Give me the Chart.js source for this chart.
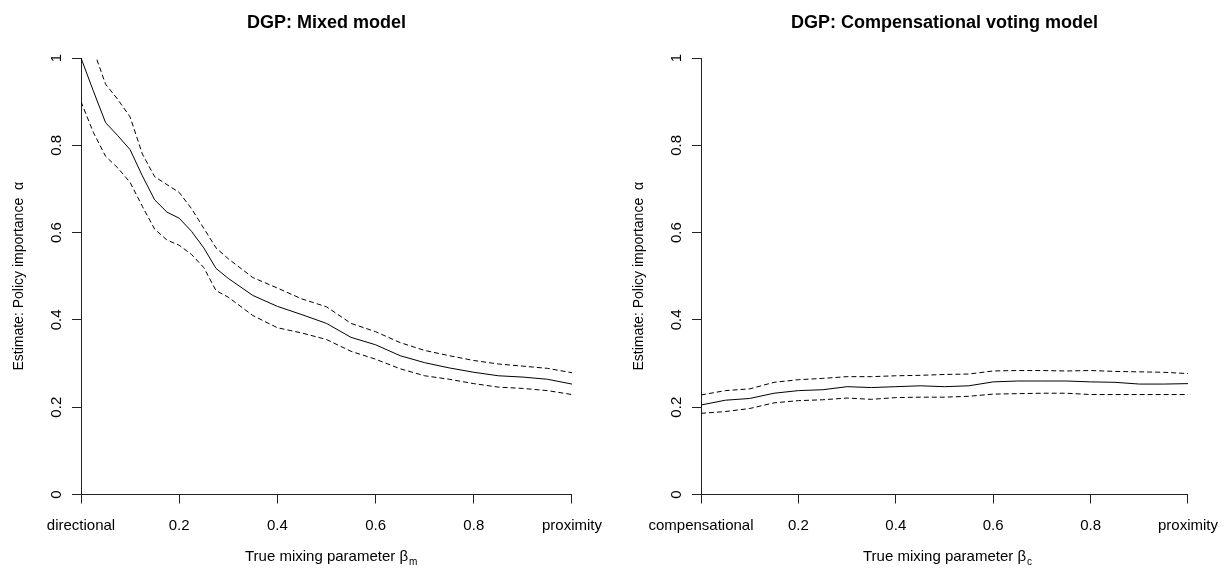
<!DOCTYPE html>
<html>
<head>
<meta charset="utf-8">
<script src="https://cdn.jsdelivr.net/npm/chart.js@4/dist/chart.umd.min.js"></script>
<style>
  html, body { margin: 0; padding: 0; background: #fff; }
  #wrap { position: relative; width: 1231px; height: 570px; overflow: hidden; }
  canvas { position: absolute; top: 0; }
  #c1 { left: 0; }
  #c2 { left: 615px; }
</style>
</head>
<body>
<div id="wrap">
  <canvas id="c1" width="615" height="570"></canvas>
  <canvas id="c2" width="616" height="570"></canvas>
</div>
<script>
// ---------- data ----------
const leftX = [0, 0.025, 0.05, 0.075, 0.1, 0.125, 0.15, 0.175, 0.2, 0.225, 0.25, 0.275, 0.3,
  0.35, 0.4, 0.45, 0.5, 0.55, 0.6, 0.65, 0.7, 0.75, 0.8, 0.85, 0.9, 0.95, 1.0];
const leftEstimate = [1.0, 0.925, 0.852, 0.822, 0.79, 0.73, 0.675, 0.647, 0.633, 0.603, 0.565, 0.518, 0.495,
  0.456, 0.431, 0.412, 0.392, 0.36, 0.343, 0.318, 0.302, 0.29, 0.28, 0.272, 0.269, 0.264, 0.253];
const leftUpper = [1.1, 1.02, 0.94, 0.905, 0.865, 0.78, 0.728, 0.71, 0.692, 0.655, 0.61, 0.565, 0.54,
  0.497, 0.473, 0.448, 0.43, 0.392, 0.373, 0.348, 0.33, 0.318, 0.307, 0.299, 0.294, 0.289, 0.279];
const leftLower = [0.9, 0.83, 0.775, 0.748, 0.715, 0.66, 0.608, 0.583, 0.571, 0.55, 0.52, 0.467, 0.452,
  0.41, 0.382, 0.37, 0.355, 0.328, 0.31, 0.288, 0.272, 0.264, 0.254, 0.246, 0.243, 0.238, 0.229];

const rightX = [0, 0.05, 0.1, 0.15, 0.2, 0.25, 0.3, 0.35, 0.4, 0.45, 0.5,
  0.55, 0.6, 0.65, 0.7, 0.75, 0.8, 0.85, 0.9, 0.95, 1.0];
const rightEstimate = [0.205, 0.216, 0.22, 0.232, 0.238, 0.24, 0.247, 0.245, 0.247, 0.249, 0.247,
  0.249, 0.258, 0.26, 0.26, 0.26, 0.258, 0.257, 0.253, 0.253, 0.254];
const rightUpper = [0.228, 0.238, 0.242, 0.257, 0.263, 0.266, 0.27, 0.27, 0.272, 0.273, 0.275,
  0.276, 0.283, 0.284, 0.284, 0.283, 0.284, 0.282, 0.281, 0.28, 0.277];
const rightLower = [0.186, 0.19, 0.197, 0.21, 0.215, 0.217, 0.221, 0.218, 0.222, 0.223, 0.223,
  0.225, 0.23, 0.231, 0.232, 0.232, 0.229, 0.229, 0.229, 0.229, 0.229];

const xTickValues = [0, 0.2, 0.4, 0.6, 0.8, 1];
const leftXTickLabels = ['directional', '0.2', '0.4', '0.6', '0.8', 'proximity'];
const rightXTickLabels = ['compensational', '0.2', '0.4', '0.6', '0.8', 'proximity'];
const yTickValues = [0, 0.2, 0.4, 0.6, 0.8, 1];
const yTickLabels = ['0', '0.2', '0.4', '0.6', '0.8', '1'];

const leftTitle = 'DGP: Mixed model';
const rightTitle = 'DGP: Compensational voting model';
const yAxisTitle = 'Estimate: Policy importance  \u03B1';
const xAxisTitle = 'True mixing parameter \u03B2';
const leftSubscript = 'm';
const rightSubscript = 'c';

// ---------- chart builder ----------
const FONT = "'Liberation Sans', Arial, sans-serif";
const AXIS = '#222';

function pts(xs, ys) { return xs.map((x, i) => ({ x: x, y: ys[i] })); }

function subscriptPlugin(sub) {
  return {
    id: 'xsub',
    afterDraw(chart) {
      const s = chart.scales.x;
      const ctx = chart.ctx;
      ctx.save();
      ctx.font = '15px ' + FONT;
      const w = ctx.measureText(xAxisTitle).width;
      const cx = (s.left + s.right) / 2;
      const cy = s.bottom - 4 - 9;
      ctx.font = '10px ' + FONT;
      ctx.fillStyle = '#000';
      ctx.textBaseline = 'middle';
      ctx.textAlign = 'left';
      ctx.fillText(sub, cx + w / 2 + 1, cy + 5);
      ctx.restore();
    }
  };
}

function makeChart(id, xs, mid, up, lo, title, xLabels, sub, padLeft, padRight) {
  const line = (data, dash) => ({
    data: pts(xs, data),
    borderColor: '#000',
    borderWidth: 1,
    borderDash: dash,
    pointRadius: 0,
    tension: 0,
    fill: false
  });
  return new Chart(document.getElementById(id), {
    type: 'line',
    data: {
      datasets: [line(mid, []), line(up, [5, 3]), line(lo, [5, 3])]
    },
    options: {
      responsive: false,
      animation: false,
      layout: { padding: { left: padLeft, right: padRight, top: 0, bottom: 0 } },
      plugins: {
        legend: { display: false },
        tooltip: { enabled: false },
        title: {
          display: true,
          text: title,
          fullSize: false,
          color: '#000',
          font: { family: FONT, size: 18, weight: 'bold' },
          padding: { top: 12, bottom: 24.4 }
        }
      },
      scales: {
        x: {
          type: 'linear',
          min: 0, max: 1,
          afterBuildTicks: (s) => { s.ticks = xTickValues.map(v => ({ value: v })); },
          afterFit: (s) => { s.height = 75.5; },
          ticks: {
            color: '#000',
            font: { family: FONT, size: 15 },
            padding: 13,
            maxRotation: 0,
            autoSkip: false,
            callback: (v, i) => xLabels[i]
          },
          grid: { display: true, drawOnChartArea: false, drawTicks: true, tickLength: 9, color: AXIS, lineWidth: 1 },
          border: { display: true, color: AXIS, width: 1 },
          title: {
            display: true,
            text: xAxisTitle,
            color: '#000',
            font: { family: FONT, size: 15 },
            padding: { top: 0, bottom: 4 }
          }
        },
        y: {
          type: 'linear',
          min: 0, max: 1,
          afterBuildTicks: (s) => { s.ticks = yTickValues.map(v => ({ value: v })); },
          afterFit: (s) => { s.width = 81; },
          ticks: {
            color: '#000',
            font: { family: FONT, size: 15 },
            padding: 5,
            minRotation: 90,
            maxRotation: 90,
            crossAlign: 'center',
            autoSkip: false,
            callback: (v, i) => yTickLabels[i]
          },
          grid: { display: true, drawOnChartArea: false, drawTicks: true, tickLength: 9, color: AXIS, lineWidth: 1 },
          border: { display: true, color: AXIS, width: 1 },
          title: {
            display: true,
            text: yAxisTitle,
            color: '#000',
            font: { family: FONT, size: 14 },
            padding: { top: 10.5, bottom: 0 }
          }
        }
      }
    },
    plugins: [subscriptPlugin(sub)]
  });
}

makeChart('c1', leftX, leftEstimate, leftUpper, leftLower, leftTitle, leftXTickLabels, leftSubscript, 0, 40.5);
makeChart('c2', rightX, rightEstimate, rightUpper, rightLower, rightTitle, rightXTickLabels, rightSubscript, 5, 35);
</script>
</body>
</html>
